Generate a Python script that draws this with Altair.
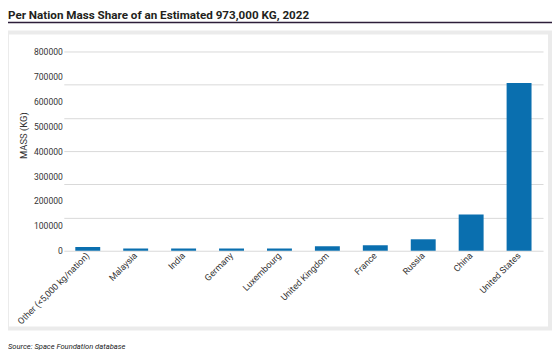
import altair as alt
import pandas as pd
import numpy as np

# ---- data ----
categories = ["Other (<5,000 kg/nation)", "Malaysia", "India", "Germany", "Luxembourg",
              "United Kingdom", "France", "Russia", "China", "United States"]
mass_kg = [15000, 9000, 9000, 9000, 9000, 18000, 22000, 46000, 146000, 673000]
y_tick_labels = [0, 100000, 200000, 300000, 400000, 500000, 600000, 700000, 800000]
title_text = "Per Nation Mass Share of an Estimated 973,000 KG, 2022"
source_text = "Source: Space Foundation database"
y_title = "MASS (KG)"

df = pd.DataFrame({"Nation": categories, "Mass": mass_kg})
one = pd.DataFrame({"k": [0]})

W, H = 481, 200
BAR = "#0A6FAF"
LAB = "#333333"
GRID = "#d9d9d9"
FONT = "Roboto"

grid_vals = [float(v) for v in np.linspace(0, 800000, 7)]

y_scale = alt.Scale(domain=[0, 800000], nice=False, zero=True)
x_enc = alt.X("Nation:N", sort=categories,
              scale=alt.Scale(paddingInner=0.48, paddingOuter=0.24),
              axis=alt.Axis(title=None, labelAngle=-45, labelAlign="right",
                            labelBaseline="middle", ticks=False, domain=False,
                            labelFont=FONT, labelFontSize=9, labelColor=LAB,
                            labelPadding=3))

box = alt.Chart(one).mark_rect(filled=False, stroke="#ebebeb", strokeWidth=4).encode(
    x=alt.value(-57), x2=alt.value(488), y=alt.value(-19), y2=alt.value(278))

grid_layer = alt.Chart(df).mark_bar(opacity=0).encode(
    x=x_enc,
    y=alt.Y("Mass:Q", scale=y_scale,
            axis=alt.Axis(values=grid_vals, grid=True, gridColor=GRID, gridWidth=1,
                          labels=False, ticks=False, domain=False, title=None,
                          orient="left")))

bars = alt.Chart(df).mark_bar(color=BAR).encode(
    x=x_enc,
    y=alt.Y("Mass:Q", scale=y_scale,
            axis=alt.Axis(values=y_tick_labels, format="d", grid=False, ticks=False,
                          domain=False, labelFont=FONT, labelFontSize=8.6,
                          labelColor=LAB, labelPadding=1.5,
                          title=y_title, titleFont=FONT, titleFontSize=9.5,
                          titleFontWeight="normal", titleColor=LAB,
                          titleX=-40, titleY=84, titleAngle=270,
                          titleAlign="center", titleBaseline="middle", orient="left")))

title = alt.Chart(one).mark_text(text=title_text, align="left", baseline="alphabetic",
                                 font=FONT, fontSize=11.7, fontWeight="bold",
                                 color="#231f20").encode(
    x=alt.value(-56), y=alt.value(-33))

underline = alt.Chart(one).mark_rule(color="#2d1e3a", strokeWidth=1.5).encode(
    x=alt.value(-57), x2=alt.value(490), y=alt.value(-29))

source = alt.Chart(one).mark_text(text=source_text, align="left", baseline="alphabetic",
                                  font=FONT, fontSize=7.6, fontStyle="italic",
                                  color="#222222").encode(
    x=alt.value(-56), y=alt.value(299))

chart = alt.layer(box, grid_layer, bars, title, underline, source).resolve_axis(
    y="independent"
).properties(
    width=W, height=H,
    autosize=alt.AutoSizeParams(type="none"),
    padding={"left": 56, "top": 43, "right": 9, "bottom": 102},
).configure_view(stroke=None)

chart.save("out.html", embed_options={"renderer": "svg", "actions": False})
